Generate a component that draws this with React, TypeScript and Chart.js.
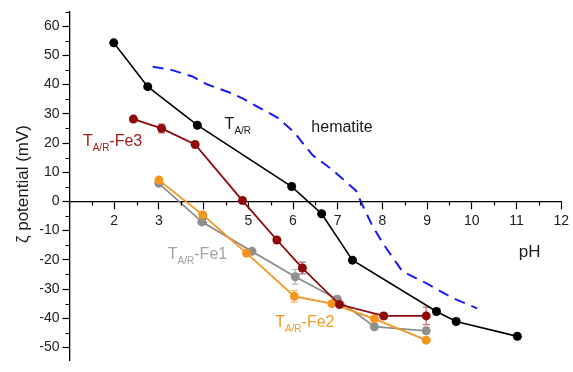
import React, { useEffect, useRef } from 'react';
import { Chart, registerables } from 'chart.js';

Chart.register(...registerables);

// ---- data (pH, zeta potential in mV) ----
const phTAR = [1.99, 2.75, 3.86, 5.97, 6.64, 7.33, 9.21, 9.65, 11.02];
const zetaTAR = [54.3, 39.3, 26.1, 5.1, -4.2, -20.1, -37.7, -41.1, -46.2];

const phFe3 = [2.43, 3.06, 3.81, 4.87, 5.64, 6.21, 7.04, 8.03, 8.98];
const zetaFe3 = [28.2, 25.0, 19.5, 0.3, -13.2, -22.8, -35.3, -39.2, -39.2];
const errFe3 = [0, 1.5, 0, 0, 0, 2, 0, 1, 3];

const phFe1 = [3.0, 3.96, 5.08, 6.05, 6.99, 7.82, 8.98];
const zetaFe1 = [6.2, -7.0, -17.1, -25.8, -33.5, -42.9, -44.3];
const errFe1 = [0, 0, 0, 2.5, 1, 0, 1];

const phFe2 = [3.0, 3.98, 4.96, 6.03, 6.87, 7.82, 8.98];
const zetaFe2 = [7.3, -4.6, -17.7, -32.5, -35.0, -40.2, -47.5];
const errFe2 = [0, 0, 1, 2, 0, 0, 0];

const phHem = [2.86, 3.24, 3.75, 4.06, 4.65, 4.88, 5.21, 5.66, 6.03, 6.44, 6.85, 7.41, 7.52, 7.78, 8.04, 8.45, 8.98, 9.56, 10.12];
const zetaHem = [46.1, 45.2, 42.8, 40.2, 36.9, 35.2, 32.4, 28.6, 23.6, 15.8, 11.2, 3.7, -0.2, -8.5, -15.0, -24.0, -28.0, -33.0, -36.6];

// ---- axes ----
const xMin = 1;
const xMax = 12;
const yMin = -54.5;
const yMax = 65;
const xTickValues = [1, 2, 3, 4, 5, 6, 7, 8, 9, 10, 11, 12];
const xMinorTicks = [1.5, 2.5, 3.5, 4.5, 5.5, 6.5, 7.5, 8.5, 9.5, 10.5, 11.5];
const yTickValues = [-50, -40, -30, -20, -10, 0, 10, 20, 30, 40, 50, 60];
const yMinorTicks = [-45, -35, -25, -15, -5, 5, 15, 25, 35, 45, 55, 65];

const yTitle = 'ζ potential (mV)';
const xTitle = 'pH';

// ---- annotations (data coordinates of left/baseline) ----
const annotations = [
  { x: 4.47, y: 24.8, color: '#1a1a1a', parts: [{ t: 'T', sub: false }, { t: 'A/R', sub: true }] },
  { x: 6.41, y: 23.8, color: '#1a1a1a', parts: [{ t: 'hematite', sub: false }] },
  { x: 1.3, y: 19.0, color: '#a01c1c', parts: [{ t: 'T', sub: false }, { t: 'A/R', sub: true }, { t: '-Fe3', sub: false }] },
  { x: 3.2, y: -19.7, color: '#a3a3a3', parts: [{ t: 'T', sub: false }, { t: 'A/R', sub: true }, { t: '-Fe1', sub: false }] },
  { x: 5.6, y: -43.1, color: '#f39a25', parts: [{ t: 'T', sub: false }, { t: 'A/R', sub: true }, { t: '-Fe2', sub: false }] },
];

const FONT = '"Liberation Sans", Arial, sans-serif';

const toXY = (xs: number[], ys: number[]) => xs.map((x, i) => ({ x, y: ys[i] }));

const errorSets = [
  { xs: phFe3, ys: zetaFe3, errs: errFe3, color: '#c46a6a' },
  { xs: phFe1, ys: zetaFe1, errs: errFe1, color: '#b4b4b4' },
  { xs: phFe2, ys: zetaFe2, errs: errFe2, color: '#f6b766' },
];

const overlayPlugin = {
  id: 'overlay',
  beforeDatasetsDraw(chart: any) {
    const ctx = chart.ctx;
    const xs = chart.scales.x;
    const ys = chart.scales.y;
    ctx.save();
    ctx.lineWidth = 1.2;
    errorSets.forEach((s) => {
      ctx.strokeStyle = s.color;
      s.xs.forEach((xv, i) => {
        const e = s.errs[i];
        if (!e) return;
        const px = xs.getPixelForValue(xv);
        const pTop = ys.getPixelForValue(s.ys[i] + e);
        const pBot = ys.getPixelForValue(s.ys[i] - e);
        ctx.beginPath();
        ctx.moveTo(px, pTop);
        ctx.lineTo(px, pBot);
        ctx.moveTo(px - 3.5, pTop);
        ctx.lineTo(px + 3.5, pTop);
        ctx.moveTo(px - 3.5, pBot);
        ctx.lineTo(px + 3.5, pBot);
        ctx.stroke();
      });
    });
    ctx.restore();
  },
  afterDraw(chart: any) {
    const ctx = chart.ctx;
    const xs = chart.scales.x;
    const ys = chart.scales.y;
    const area = chart.chartArea;
    ctx.save();
    // minor ticks
    ctx.strokeStyle = '#000';
    ctx.lineWidth = 1.2;
    const y0 = Math.round(ys.getPixelForValue(0)) + 0.5;
    ctx.beginPath();
    xMinorTicks.forEach((v) => {
      const px = Math.round(xs.getPixelForValue(v)) + 0.5;
      ctx.moveTo(px, y0);
      ctx.lineTo(px, y0 + 4);
    });
    yMinorTicks.forEach((v) => {
      const py = Math.round(ys.getPixelForValue(v)) + 0.5;
      ctx.moveTo(area.left, py);
      ctx.lineTo(area.left - 4, py);
    });
    ctx.stroke();

    // annotations
    ctx.textBaseline = 'alphabetic';
    ctx.textAlign = 'left';
    annotations.forEach((a) => {
      let px = xs.getPixelForValue(a.x);
      const py = ys.getPixelForValue(a.y);
      ctx.fillStyle = a.color;
      a.parts.forEach((p) => {
        ctx.font = p.sub ? `10px ${FONT}` : `16px ${FONT}`;
        ctx.fillText(p.t, px, p.sub ? py + 5 : py);
        px += ctx.measureText(p.t).width;
      });
    });

    // x title
    ctx.fillStyle = '#1a1a1a';
    ctx.font = `17px ${FONT}`;
    ctx.fillText(xTitle, xs.getPixelForValue(11.05), ys.getPixelForValue(-19));

    // y title (rotated)
    ctx.translate(28, 184);
    ctx.rotate(-Math.PI / 2);
    ctx.textAlign = 'center';
    ctx.fillText(yTitle, 0, 0);
    ctx.restore();
  },
};

export default function App() {
  const ref = useRef<HTMLCanvasElement>(null);

  useEffect(() => {
    document.body.style.margin = '0';
    const canvas = ref.current;
    if (!canvas) return;
    const lineDs = (label: string, xsArr: number[], ysArr: number[], color: string, order: number, width: number) => ({
      label,
      data: toXY(xsArr, ysArr),
      borderColor: color,
      backgroundColor: color,
      borderWidth: width,
      pointRadius: 4.5,
      pointBorderWidth: 0,
      pointBackgroundColor: color,
      showLine: true,
      tension: 0,
      order,
    });
    const chart = new Chart(canvas, {
      type: 'line',
      data: {
        datasets: [
          lineDs('TA/R', phTAR, zetaTAR, '#000000', 0, 1.6),
          lineDs('TA/R-Fe3', phFe3, zetaFe3, '#8e0a0a', 1, 1.8),
          lineDs('TA/R-Fe2', phFe2, zetaFe2, '#f5951e', 2, 1.8),
          lineDs('TA/R-Fe1', phFe1, zetaFe1, '#8f8f8f', 3, 1.8),
          {
            label: 'hematite',
            data: toXY(phHem, zetaHem),
            borderColor: '#1a1aff',
            backgroundColor: '#1a1aff',
            borderWidth: 2,
            borderDash: [11, 7],
            pointRadius: 0,
            tension: 0,
            order: 4,
          },
        ],
      },
      options: {
        animation: false,
        responsive: false,
        maintainAspectRatio: false,
        layout: { padding: { top: 11.6, right: 10.3, bottom: 0, left: 0 } },
        plugins: {
          legend: { display: false },
          tooltip: { enabled: false },
        },
        scales: {
          x: {
            type: 'linear',
            position: { y: 0 } as any,
            min: xMin,
            max: xMax,
            afterBuildTicks: (scale: any) => {
              scale.ticks = xTickValues.map((v) => ({ value: v }));
            },
            ticks: {
              font: { family: FONT, size: 14 },
              color: '#222',
              padding: 4,
              maxRotation: 0,
              autoSkip: false,
              callback: (v: any) => (v === 1 ? '' : String(v)),
            },
            grid: { display: true, drawOnChartArea: false, drawTicks: true, tickLength: 7, tickColor: '#000', tickWidth: 1.2 },
            border: { display: true, color: '#000', width: 1.3 },
          },
          y: {
            type: 'linear',
            position: 'left',
            min: yMin,
            max: yMax,
            afterBuildTicks: (scale: any) => {
              scale.ticks = yTickValues.map((v) => ({ value: v }));
            },
            afterFit: (scale: any) => {
              scale.width = 69.5;
            },
            ticks: {
              font: { family: FONT, size: 14 },
              color: '#222',
              padding: 3,
              autoSkip: false,
            },
            grid: { display: true, drawOnChartArea: false, drawTicks: true, tickLength: 7, tickColor: '#000', tickWidth: 1.2 },
            border: { display: true, color: '#000', width: 1.3 },
          },
        },
      },
      plugins: [overlayPlugin],
    } as any);
    return () => chart.destroy();
  }, []);

  return (
    <div style={{ position: 'fixed', left: 0, top: 0, width: 573, height: 372, background: '#fff' }}>
      <canvas ref={ref} width={573} height={372} style={{ display: 'block' }} />
    </div>
  );
}
